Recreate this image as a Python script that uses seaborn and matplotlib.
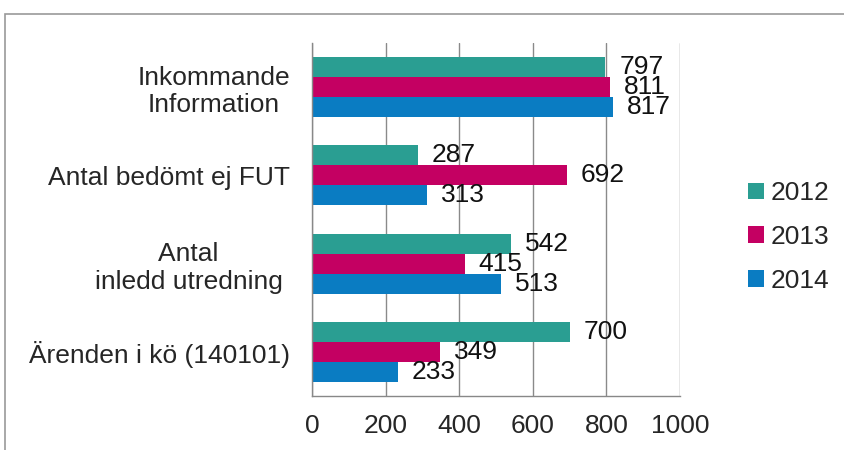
import matplotlib
matplotlib.use("Agg")
import matplotlib.pyplot as plt
import matplotlib.patches as mpatches
import seaborn as sns
import pandas as pd

categories = ["Inkommande\nInformation", "Antal bedömt ej FUT", "Antal \ninledd utredning ", "Ärenden i kö (140101)"]
years = ["2012", "2013", "2014"]
values_2012 = [797, 287, 542, 700]
values_2013 = [811, 692, 415, 349]
values_2014 = [817, 313, 513, 233]
x_ticks = [0, 200, 400, 600, 800, 1000]
colors = ["#2A9E92", "#C40062", "#0A7CC2"]

rows = []
for yr, vals in zip(years, [values_2012, values_2013, values_2014]):
    for c, v in zip(categories, vals):
        rows.append({"category": c, "value": v, "year": yr})
df = pd.DataFrame(rows)

sns.set_style("white")
plt.rcParams["font.family"] = ["Liberation Sans", "DejaVu Sans"]
FS = 19

fig = plt.figure(figsize=(8.45, 4.5), dpi=100)
ax = fig.add_axes([312/845, 54/450, (680-312)/845, (396-43)/450])

sns.barplot(data=df, y="category", x="value", hue="year", order=categories,
            hue_order=years, palette=colors, orient="h", width=0.68,
            ax=ax, saturation=1, linewidth=0)

for cont in ax.containers:
    ax.bar_label(cont, fmt="%d", padding=10, fontsize=FS, color="#111111")

ax.set_xlim(0, 1000)
ax.set_ylim(3.5, -0.5)
ax.set_xticks(x_ticks)
ax.set_xticklabels([str(t) for t in x_ticks], fontsize=FS)
ax.set_xlabel("")
ax.set_ylabel("")
ax.tick_params(axis="y", which="major", length=0, pad=16, labelsize=FS)
for lab in ax.get_yticklabels():
    lab.set_multialignment("center")
ax.set_yticks([-0.5, 0.5, 1.5, 2.5, 3.5], minor=True)
ax.tick_params(axis="y", which="minor", length=6, color="#888888", width=1)
ax.tick_params(axis="x", which="major", length=6, color="#888888", width=1, pad=7)
ax.grid(axis="x", color="#8a8a8a", linewidth=1)
ax.set_axisbelow(True)
for s in ["top", "right"]:
    ax.spines[s].set_visible(False)
for s in ["left", "bottom"]:
    ax.spines[s].set_color("#888888")
    ax.spines[s].set_linewidth(1)

handles, labels = ax.get_legend_handles_labels()
ax.legend(handles, labels, loc="center left", bbox_to_anchor=(748/845, 0.473),
          bbox_transform=fig.transFigure, frameon=False, fontsize=FS,
          handlelength=0.6, handleheight=0.6, handletextpad=0.25,
          labelspacing=0.75, borderpad=0, borderaxespad=0)

fig.patches.append(mpatches.Rectangle((5/845, -0.1), 1.2, 1.1 - 14/450,
                                      transform=fig.transFigure, fill=False,
                                      edgecolor="#999999", linewidth=1.2))

fig.savefig("out.png", dpi=100)
